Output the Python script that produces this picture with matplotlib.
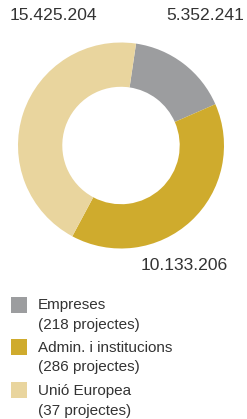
import matplotlib.pyplot as plt
from matplotlib.patches import Rectangle

# data (slice shares, clockwise from the top)
categories = ['Empreses', 'Admin. i institucions', 'Unió Europea']
projects = ['(218 projectes)', '(286 projectes)', '(37 projectes)']
amount_labels = ['5.352.241', '10.133.206', '15.425.204']
shares = [16.1, 39.4, 44.5]
colors = ['#9c9d9f', '#cfab2d', '#e9d59e']
txt = '#333333'

plt.rcParams['font.family'] = ['Liberation Sans', 'DejaVu Sans']

W, H = 247, 419
fig = plt.figure(figsize=(W / 100, H / 100), dpi=100)

# donut: centre (121, 145.5) px from top-left, radius 103 px
cx, cy, r = 121, 145.5, 103
ax = fig.add_axes([(cx - r) / W, (H - cy - r) / H, 2 * r / W, 2 * r / H])
wedges, _ = ax.pie(shares, colors=colors, startangle=81.6, counterclock=False,
                   radius=1, wedgeprops=dict(width=0.43, linewidth=0))
ax.set_xlim(-1, 1)
ax.set_ylim(-1, 1)
ax.set_aspect('equal')
ax.axis('off')

# amount labels
fs = 12.6
fig.text(10 / W, 1 - 15.5 / H, amount_labels[2], fontsize=fs, color=txt, va='center', ha='left')
fig.text(244 / W, 1 - 15.5 / H, amount_labels[0], fontsize=fs, color=txt, va='center', ha='right')
fig.text(228 / W, 1 - 265 / H, amount_labels[1], fontsize=fs, color=txt, va='center', ha='right')

# legend
tops = [297, 339, 382]
for top, cat, proj, c in zip(tops, categories, projects, colors):
    fig.patches.append(Rectangle((11 / W, 1 - (top + 16) / H), 16 / W, 16 / H,
                                 transform=fig.transFigure, color=c, lw=0))
    fig.text(38 / W, 1 - (top + 8.5) / H, cat, fontsize=11, color=txt, va='center')
    fig.text(38 / W, 1 - (top + 28.5) / H, proj, fontsize=11, color=txt, va='center')

fig.savefig('out.png', dpi=100)
